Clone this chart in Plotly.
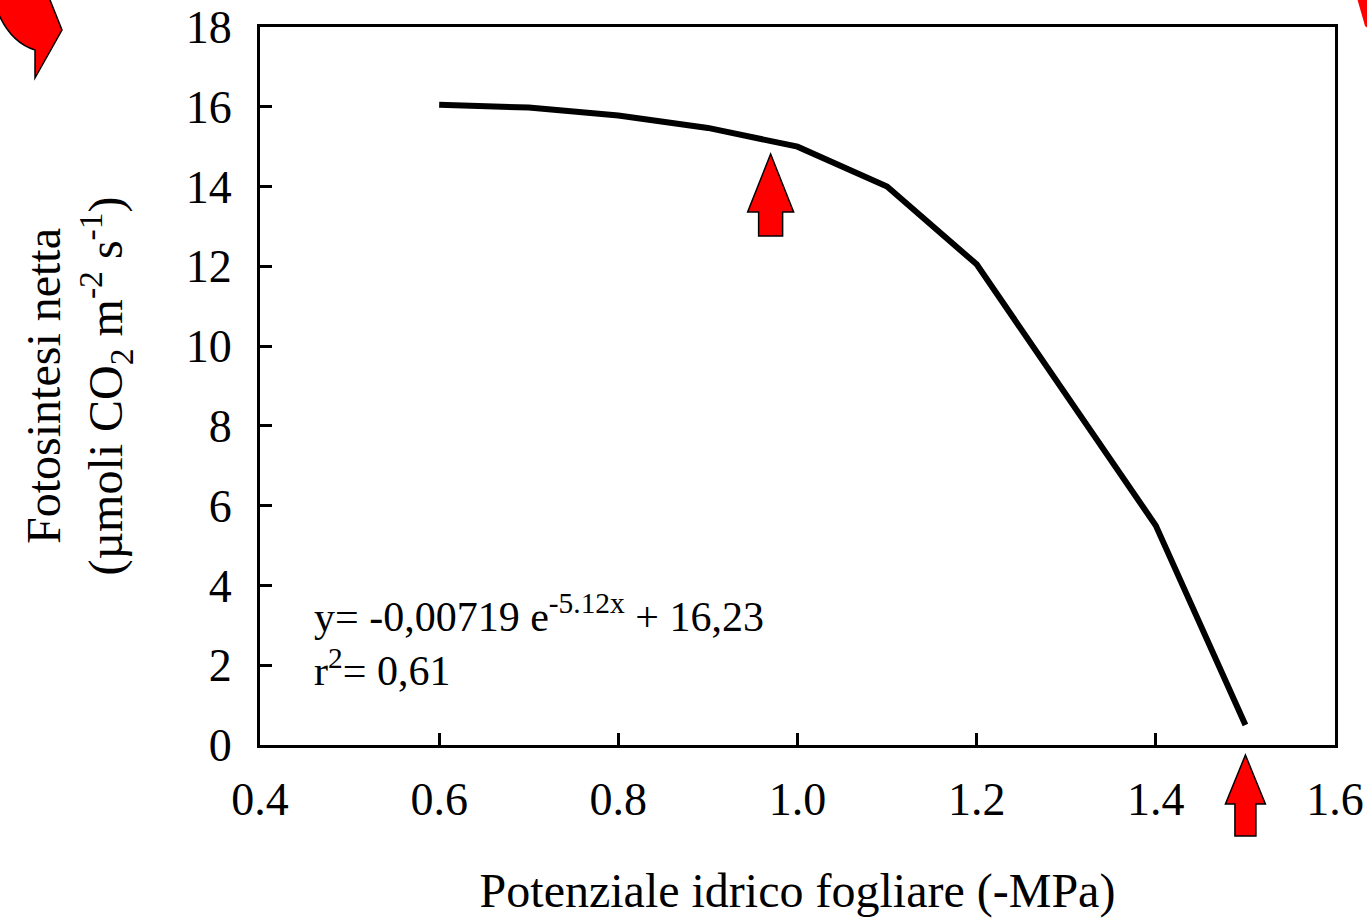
import plotly.graph_objects as go

# Fotosintesi netta vs potenziale idrico fogliare
potenziale = [0.6, 0.7, 0.8, 0.9, 1.0, 1.1, 1.2, 1.3, 1.4, 1.5]
fotosintesi = [16.05, 15.98, 15.78, 15.47, 15.0, 14.0, 12.05, 8.8, 5.5, 0.5]

x_ticks = [0.4, 0.6, 0.8, 1.0, 1.2, 1.4, 1.6]
y_ticks = [0, 2, 4, 6, 8, 10, 12, 14, 16, 18]

# red arrows under the curve (x in data units)
arrow_x = [0.97, 1.5]

FONT = "Liberation Serif"

# plot area in pixels (margins fixed below)
L, R, T, B = 260, 1335, 27, 745


def px(x):
    return (x - L) / (R - L)


def py(y):
    return (B - y) / (B - T)


def path(points):
    return "M " + " L ".join(f"{px(a):.5f},{py(b):.5f}" for a, b in points) + " Z"


def up_arrow(cx, tip, head_h, head_w, shaft_w, total):
    return path([
        (cx, tip), (cx + head_w, tip + head_h), (cx + shaft_w, tip + head_h),
        (cx + shaft_w, tip + total), (cx - shaft_w, tip + total),
        (cx - shaft_w, tip + head_h), (cx - head_w, tip + head_h),
    ])


def data_to_px(x):
    return L + (x - x_ticks[0]) / (x_ticks[-1] - x_ticks[0]) * (R - L)


fig = go.Figure()
fig.add_trace(go.Scatter(
    x=potenziale, y=fotosintesi, mode="lines",
    line=dict(color="black", width=6), showlegend=False,
))

shapes = []
shapes.append(dict(type="path", xref="paper", yref="paper",
                   path=up_arrow(data_to_px(arrow_x[0]), 154, 58, 23, 12, 82),
                   fillcolor="#ff0000", line=dict(color="black", width=1.5)))
shapes.append(dict(type="path", xref="paper", yref="paper",
                   path=up_arrow(data_to_px(arrow_x[1]), 755, 49, 20, 10.5, 81),
                   fillcolor="#ff0000", line=dict(color="black", width=1.5)))
# partial curved arrow in the top-left corner
tl = (f"M {px(-5):.5f},{py(5):.5f} Q {px(8):.5f},{py(42):.5f} {px(35):.5f},{py(50):.5f} "
      f"L {px(35):.5f},{py(78):.5f} L {px(62):.5f},{py(30):.5f} L {px(48):.5f},{py(-5):.5f} "
      f"L {px(-5):.5f},{py(-5):.5f} Z")
shapes.append(dict(type="path", xref="paper", yref="paper", path=tl,
                   fillcolor="#ff0000", line=dict(color="black", width=1.5)))
# red sliver in the top-right corner
shapes.append(dict(type="path", xref="paper", yref="paper",
                   path=path([(1357, -2), (1370, -2), (1370, 30), (1365, 26)]),
                   fillcolor="#ff0000", line=dict(width=0)))

fig.add_annotation(
    x=0.458, y=2.62, xref="x", yref="y", xanchor="left", yanchor="middle",
    text="y= -0,00719 e<sup>-5.12x</sup> + 16,23<br>r<sup>2</sup>= 0,61",
    showarrow=False, align="left", font=dict(family=FONT, size=42, color="black"),
)

fig.update_layout(
    width=1367, height=920,
    margin=dict(l=L, r=1367 - R, t=T, b=920 - B, autoexpand=False),
    paper_bgcolor="white", plot_bgcolor="white",
    font=dict(family=FONT, color="black"),
    shapes=shapes,
)
fig.update_xaxes(
    range=[0.4, 1.6], tickvals=x_ticks, tickformat=".1f",
    showline=True, linecolor="black", linewidth=3, mirror=True,
    ticks="inside", ticklen=12, tickwidth=3, tickcolor="black",
    showgrid=False, zeroline=False, tickfont=dict(size=46),
    ticklabelstandoff=12,
    title=dict(text="Potenziale idrico fogliare (-MPa)", font=dict(size=48), standoff=50),
)
fig.update_yaxes(
    range=[0, 18], tickvals=y_ticks,
    showline=True, linecolor="black", linewidth=3, mirror=True,
    ticks="inside", ticklen=12, tickwidth=3, tickcolor="black",
    showgrid=False, zeroline=False, tickfont=dict(size=46),
    ticklabelstandoff=16,
    title=dict(text="Fotosintesi netta<br>(µmoli CO<sub>2</sub> m<sup>-2</sup> s<sup>-1</sup>)",
               font=dict(size=48), standoff=48),
)

fig.write_html("out.html", config={"displayModeBar": False},
               post_script="document.body.style.margin='0';")
